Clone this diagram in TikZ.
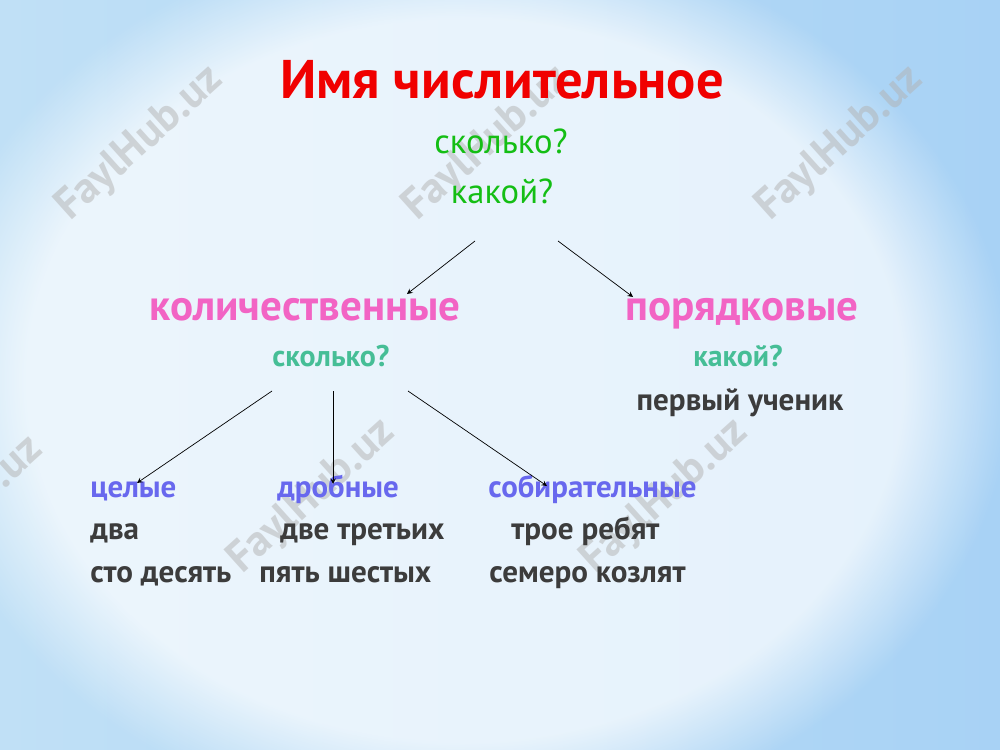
\documentclass[tikz,border=0pt]{standalone}
\usepackage{fontspec}
\setmainfont{PT Sans}
\usepackage{tikz}
\usetikzlibrary{positioning,fadings}
\definecolor{bgblue}{RGB}{168,210,245}
\definecolor{bgleft}{RGB}{192,224,246}
\definecolor{bgmid}{RGB}{244,249,254}
\definecolor{titlered}{RGB}{240,0,0}
\definecolor{qgreen}{RGB}{20,190,20}
\definecolor{catpink}{RGB}{242,100,196}
\definecolor{qteal}{RGB}{70,190,150}
\definecolor{subviolet}{RGB}{104,104,238}
\definecolor{wordgray}{RGB}{60,60,60}
\begin{document}
\begin{tikzpicture}[>=stealth,x=0.02cm,y=-0.02cm]
\tikzstyle{every node}=[inner sep=0pt,anchor=mid];
\tikzstyle{title}=[text=titlered,font=\fontsize{31}{31}\selectfont\bfseries];
\tikzstyle{question}=[text=qgreen,font=\fontsize{19.7}{20}\selectfont];
\tikzstyle{category}=[text=catpink,font=\fontsize{24.5}{25}\selectfont\bfseries];
\tikzstyle{subquestion}=[text=qteal,font=\fontsize{17}{17}\selectfont\bfseries];
\tikzstyle{kind}=[text=subviolet,anchor=mid west,font=\fontsize{17.6}{18}\selectfont\bfseries];
\tikzstyle{example}=[text=wordgray,font=\fontsize{17.7}{18}\selectfont\bfseries];
\tikzstyle{watermark}=[text=gray!60,opacity=0.5,rotate=42,anchor=center,font=\fontsize{25}{25}\selectfont\bfseries];
% background
    \useasboundingbox (0,0) rectangle (1000,750);
    \shade[left color=bgleft,middle color=bgmid,right color=bgblue] (0,0) rectangle (1000,750);
    \fill[white,opacity=0.7,path fading=circle with fuzzy edge 20 percent] (-80,-70) rectangle (1010,830);
% watermarks
    \foreach \wx/\wy [count=\i] in {140/144,487/144,840/144,-40/514,312/497,665/497}
      \node[watermark] (wm\i) at (\wx,\wy) {FaylHub.uz};
%   nodes
    \node[title] (name) at (502,94) {Имя числительное};
    \node[question] (how) at (501,149) {сколько?};
    \node[question] (which) at (502,199) {какой?};
    \node[category] (card) at (305,316) {количественные};
    \node[category] (ord) at (742,316) {порядковые};
    \node[subquestion] (cardq) at (331,362) {сколько?};
    \node[subquestion] (ordq) at (738,362) {какой?};
    \node[example] (ordex) at (740,406) {первый ученик};
    \node[kind] (whole) at (90,493) {целые};
    \node[kind] (frac) at (277,493) {дробные};
    \node[kind] (coll) at (488,493) {собирательные};
    \node[example,anchor=mid west] (two) at (90,535) {два};
    \node[example,anchor=mid west] (twothirds) at (280,535) {две третьих};
    \node[example,anchor=mid west] (three) at (511,535) {трое ребят};
    \node[example,anchor=mid west] (hundred) at (90,578) {сто десять};
    \node[example,anchor=mid west] (fivesix) at (259,578) {пять шестых};
    \node[example,anchor=mid west] (seven) at (489,578) {семеро козлят};
%   arrow ends
    \coordinate (t1) at (475,241);
    \coordinate (t2) at (558,241);
    \coordinate (c1) at (272,391);
    \coordinate (c2) at (333,391);
    \coordinate (c3) at (408,391);
    \coordinate (h1) at (407,294);
    \coordinate (h2) at (633,297);
    \coordinate (k1) at (137,483);
    \coordinate (k2) at (333,484);
    \coordinate (k3) at (547,486);
%   edges
    \draw[->] (t1) -- (h1);
    \draw[->] (t2) -- (h2);
    \draw[->] (c1) -- (k1);
    \draw[->] (c2) -- (k2);
    \draw[->] (c3) -- (k3);
\end{tikzpicture}
\end{document}
